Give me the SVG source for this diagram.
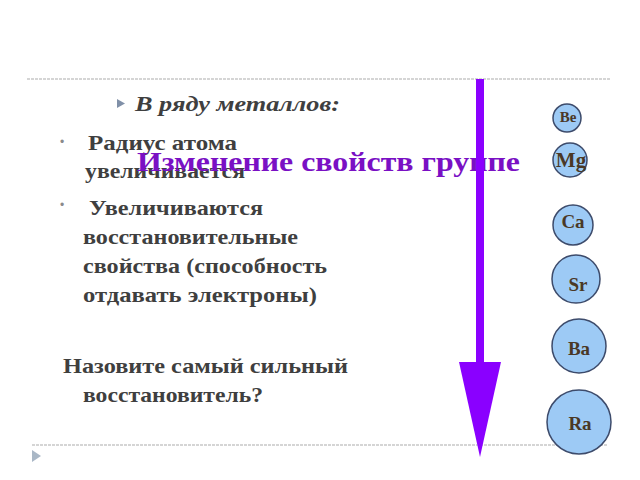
<svg xmlns="http://www.w3.org/2000/svg" width="640" height="480" viewBox="0 0 640 480">
<style>
.t{font-family:"Liberation Serif","DejaVu Serif","Times New Roman",serif;font-weight:bold;fill:#3f3f3f;font-size:21px}
.bul{font-family:"Liberation Sans",Arial,sans-serif;fill:#8a8a8a;font-size:12px}
.title{font-family:"Liberation Serif","DejaVu Serif","Times New Roman",serif;font-weight:bold;fill:#7a10c4;font-size:28px}
.el circle{fill:#9dcaf5;stroke:#3d4b6b;stroke-width:1.5}
.el text{font-family:"Liberation Serif","Times New Roman",serif;font-weight:bold;fill:#4a3826;text-anchor:middle}
.dash{stroke:#c8c8c8;stroke-width:1.5;stroke-dasharray:3 1}
</style>
<rect width="640" height="480" fill="#fff"/>
<line class="dash" x1="27" y1="79" x2="610" y2="79"/>
<line class="dash" x1="32" y1="445" x2="607" y2="445"/>
<polygon points="32,450 41,456 32,462" fill="#a9b7c6"/>

<g id="heading">
<polygon points="117,99 125,103.5 117,108" fill="#8090a8"/>
<text class="t" x="135" y="111" font-style="italic" textLength="205" lengthAdjust="spacingAndGlyphs">В ряду металлов:</text>
</g>
<g id="text-list">
<text class="bul" x="60" y="146">•</text>
<text class="t" x="88" y="150" textLength="149" lengthAdjust="spacingAndGlyphs">Радиус атома</text>
<text class="t" x="85" y="178" textLength="160" lengthAdjust="spacingAndGlyphs">увеличивается</text>
<text class="bul" x="60" y="209">•</text>
<text class="t" x="89" y="215" textLength="174" lengthAdjust="spacingAndGlyphs">Увеличиваются</text>
<text class="t" x="83" y="244" textLength="215" lengthAdjust="spacingAndGlyphs">восстановительные</text>
<text class="t" x="83" y="273" textLength="244" lengthAdjust="spacingAndGlyphs">свойства (способность</text>
<text class="t" x="83" y="302" textLength="234" lengthAdjust="spacingAndGlyphs">отдавать электроны)</text>
<text class="t" x="63" y="373" textLength="285" lengthAdjust="spacingAndGlyphs">Назовите самый сильный</text>
<text class="t" x="83" y="402" textLength="180" lengthAdjust="spacingAndGlyphs">восстановитель?</text>
</g>
<g id="title">
<text class="title" x="137" y="171" textLength="383" lengthAdjust="spacingAndGlyphs">Изменение свойств  группе</text>
</g>
<g id="connectors">
<rect x="476" y="79" width="8" height="285" fill="#8a00ff"/>
<polygon points="459,362 501,362 480,457" fill="#8a00ff"/>
</g>
<g id="Be" class="el"><circle cx="567" cy="118" r="14"/><text x="568" y="122" font-size="15">Be</text></g>
<g id="Mg" class="el"><circle cx="570" cy="160" r="17"/><text x="571" y="167" font-size="21">Mg</text></g>
<g id="Ca" class="el"><circle cx="573" cy="225" r="20"/><text x="573" y="228" font-size="19">Ca</text></g>
<g id="Sr" class="el"><circle cx="576" cy="279" r="24"/><text x="578" y="291" font-size="19">Sr</text></g>
<g id="Ba" class="el"><circle cx="579" cy="346" r="27"/><text x="579" y="355" font-size="19">Ba</text></g>
<g id="Ra" class="el"><circle cx="579" cy="422" r="32"/><text x="580" y="430" font-size="19">Ra</text></g>
</svg>
